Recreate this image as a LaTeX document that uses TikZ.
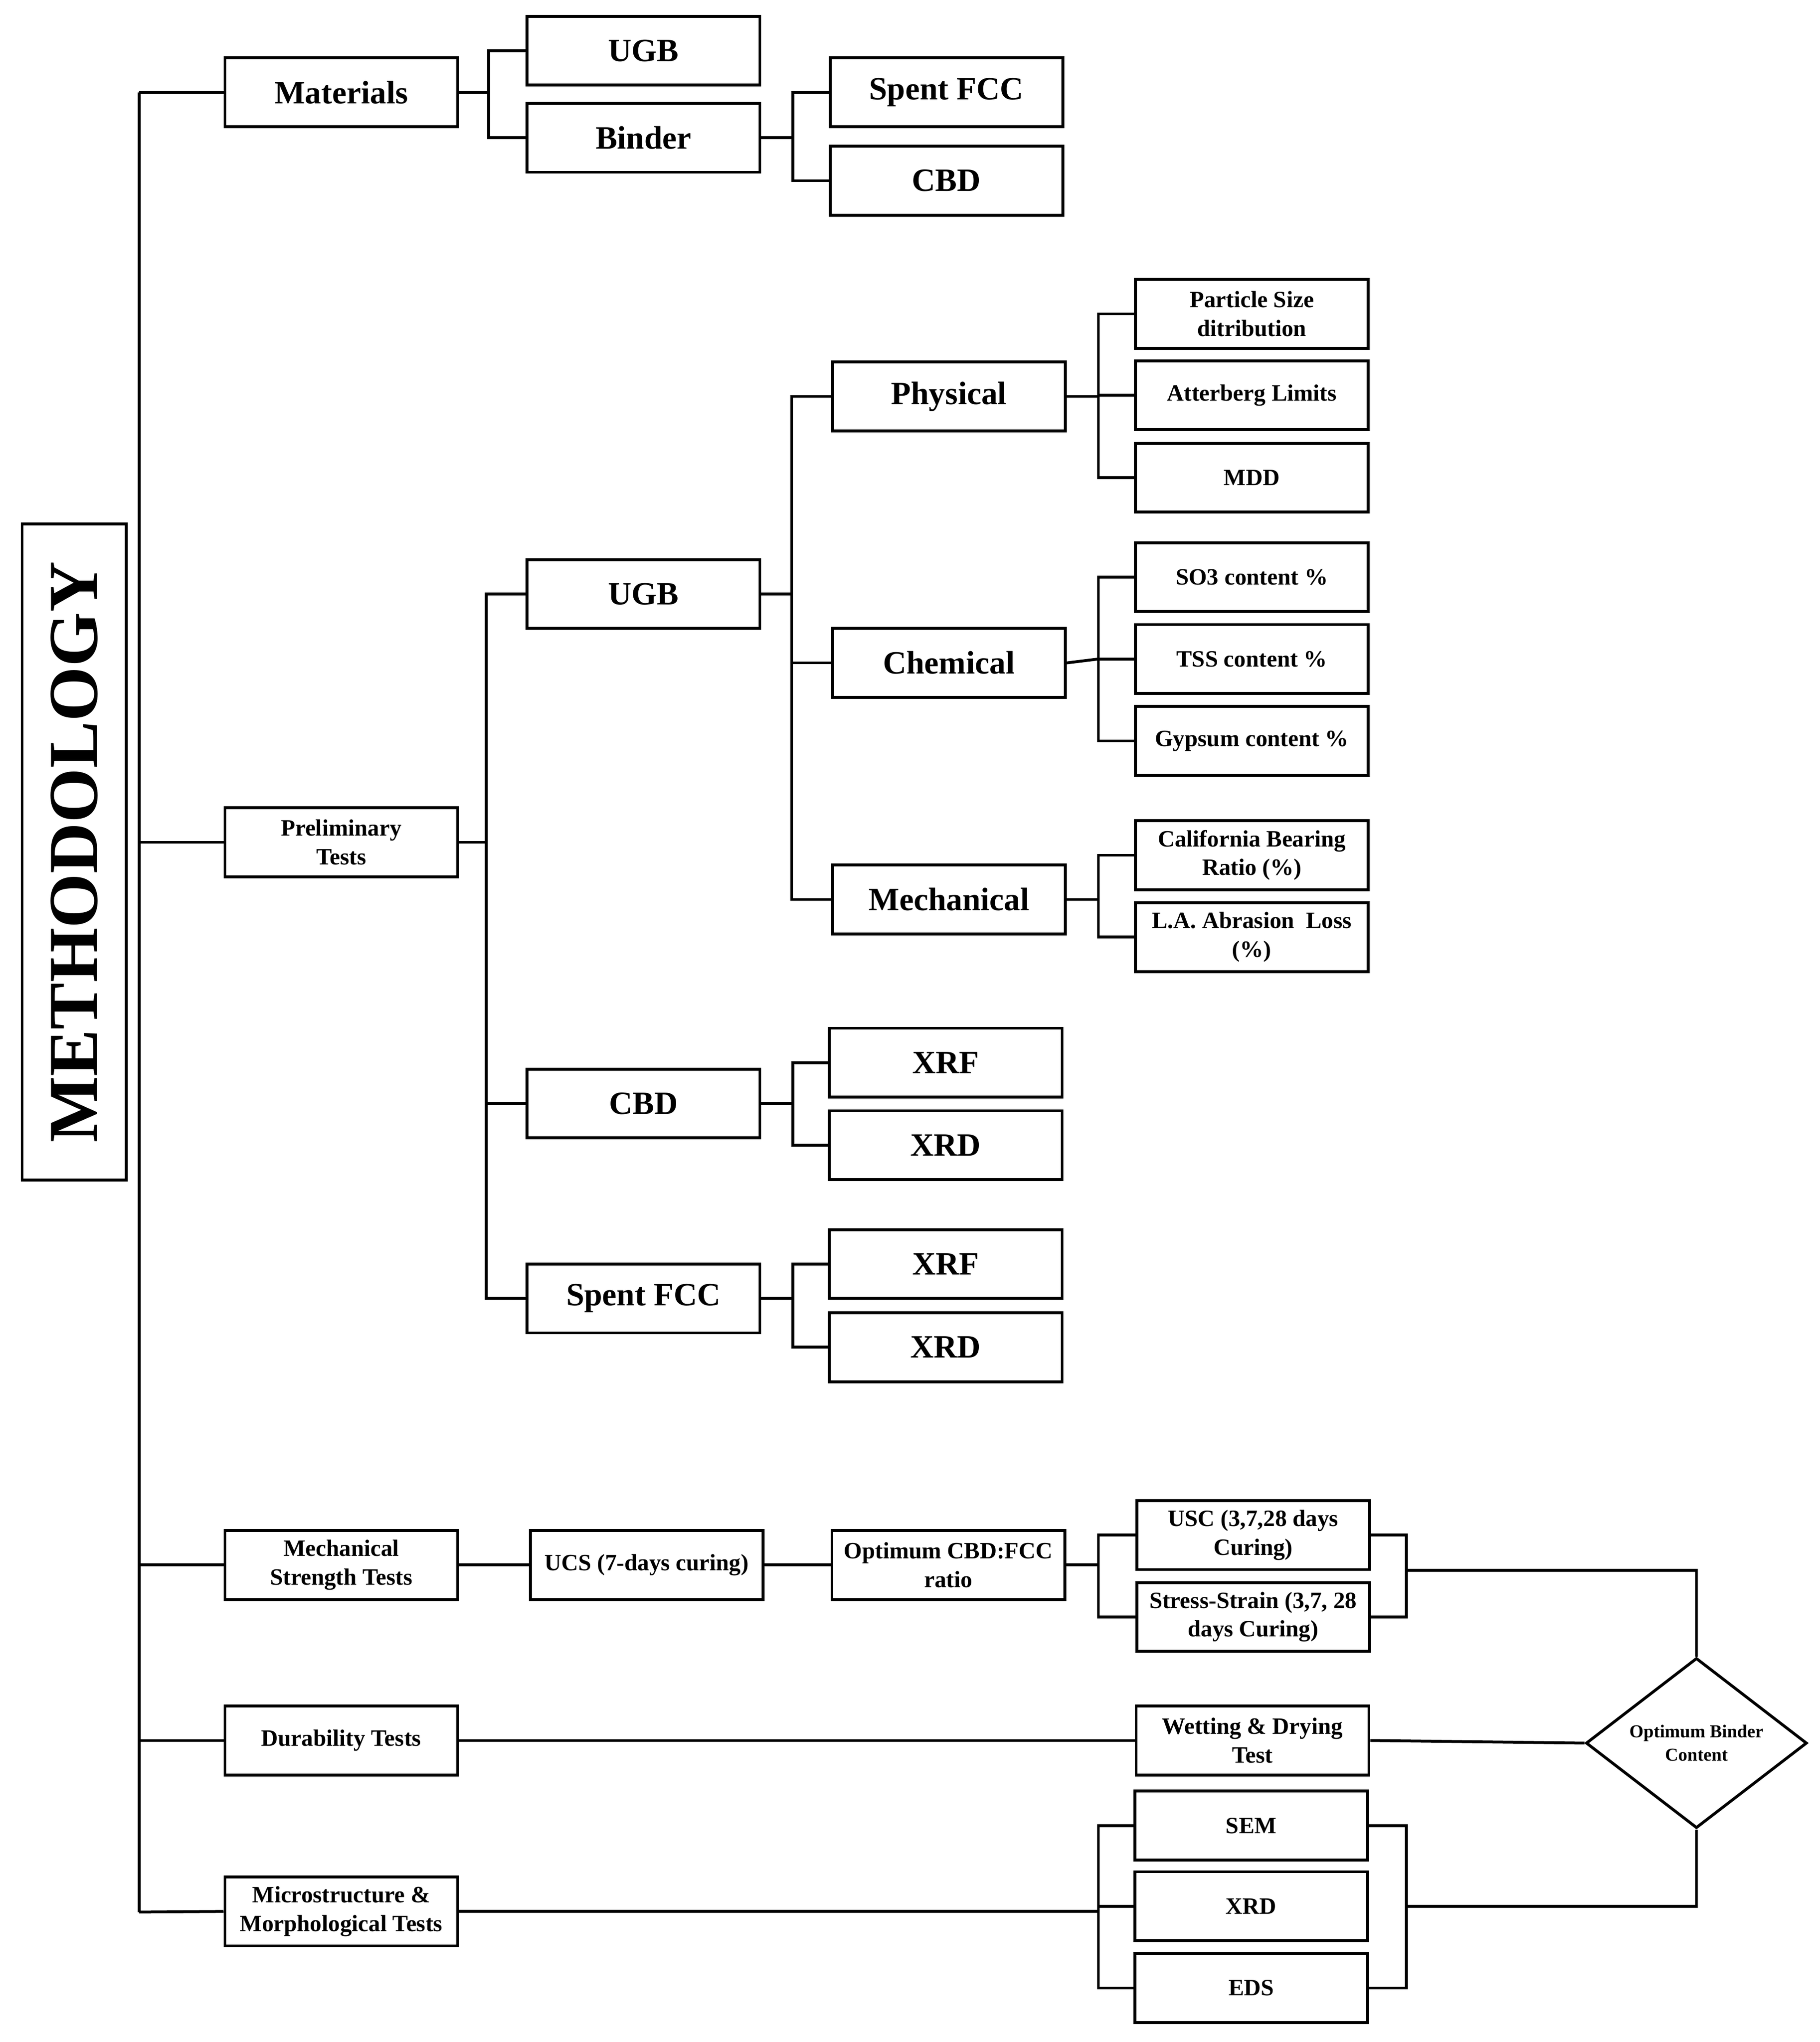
\documentclass[tikz,border=0pt]{standalone}
\usepackage{fontspec}
\setmainfont{Liberation Serif}
\usetikzlibrary{shapes.geometric}
\begin{document}
\begin{tikzpicture}[x=1pt,y=-1pt,
 bx/.style={draw,line width=2.2pt,minimum width=179pt,minimum height=53pt,inner sep=1pt,align=center,font=\bfseries\fontsize{25}{27}\selectfont},
 sm/.style={bx,font=\bfseries\fontsize{18}{22}\selectfont},
 ln/.style={line width=2.2pt}]
\useasboundingbox (0,0) rectangle (1400,1571);
\node[draw,line width=2.2pt,minimum width=80pt,minimum height=505pt,inner sep=0] (meth) at (57,655.5) {};
\node[rotate=90,font=\bfseries\fontsize{54}{56}\selectfont] (mt) at (57,655.5) {METHODOLOGY};
\node[bx] (mat) at (262.5,71) {Materials};
\node[bx] (ugb1) at (495,39) {UGB};
\node[bx] (bin) at (495,106) {Binder};
\node[bx] (fcc1) at (728,71) {Spent FCC};
\node[bx] (cbd1) at (728,139) {CBD};
\node[sm] (pre) at (262.5,648) {Preliminary\\Tests};
\node[bx] (ugb) at (495,457) {UGB};
\node[bx] (phy) at (730,305) {Physical};
\node[bx] (che) at (730,510) {Chemical};
\node[bx] (mec) at (730,692) {Mechanical};
\node[sm] (psd) at (963,241.5) {Particle Size\\ditribution};
\node[sm] (att) at (963,304) {Atterberg Limits};
\node[sm] (mdd) at (963,367.5) {MDD};
\node[sm] (so3) at (963,444) {SO3 content \%};
\node[sm] (tss) at (963,507) {TSS content \%};
\node[sm] (gyp) at (963,570) {Gypsum content \%};
\node[sm] (cbr) at (963,658) {California Bearing\\Ratio (\%)};
\node[sm] (la) at (963,721) {L.A. Abrasion~ Loss\\(\%)};
\node[bx] (cbd) at (495,849) {CBD};
\node[bx] (xrf1) at (727.5,817.5) {XRF};
\node[bx] (xrd1) at (727.5,881) {XRD};
\node[bx] (fcc) at (495,999) {Spent FCC};
\node[bx] (xrf2) at (727.5,972.5) {XRF};
\node[bx] (xrd2) at (727.5,1036.5) {XRD};
\node[sm] (mst) at (262.5,1204) {Mechanical\\Strength Tests};
\node[sm] (ucs) at (497.5,1204) {UCS (7-days curing)};
\node[sm] (opt) at (729.5,1204) {Optimum CBD:FCC\\ratio};
\node[sm] (usc) at (964,1181) {USC (3,7,28 days\\Curing)};
\node[sm] (ss) at (964,1244) {Stress-Strain (3,7, 28\\days Curing)};
\node[sm] (dur) at (262.5,1339) {Durability Tests};
\node[sm] (wd) at (963.5,1339) {Wetting \& Drying\\Test};
\node[sm] (mic) at (262.5,1470.5) {Microstructure \&\\Morphological Tests};
\node[sm] (sem) at (962.5,1404.5) {SEM};
\node[sm] (xrd3) at (962.5,1466.5) {XRD};
\node[sm] (eds) at (962.5,1529.5) {EDS};
\node[diamond,draw,line width=2.2pt,minimum width=170pt,minimum height=98pt,inner sep=0,align=center,font=\bfseries\fontsize{14}{18}\selectfont] (obc) at (1305,1341) {Optimum Binder\\Content};
% trunk
\draw[ln] (107,71) -- (107,1471);
\draw[ln] (107,71) -- (mat.west);
\draw[ln] (107,648) -- (pre.west);
\draw[ln] (107,1204) -- (mst.west);
\draw[ln] (107,1339) -- (dur.west);
\draw[ln] (107,1471) -- (mic.west);
% materials
\draw[ln] (mat.east) -- (376,71);
\draw[ln] (ugb1.west) -| (376,106) -- (bin.west);
\draw[ln] (bin.east) -- (610,106);
\draw[ln] (fcc1.west) -| (610,139) -- (cbd1.west);
% preliminary
\draw[ln] (pre.east) -- (374,648);
\draw[ln] (ugb.west) -| (374,999) -- (fcc.west);
\draw[ln] (374,849) -- (cbd.west);
\draw[ln] (ugb.east) -- (609,457);
\draw[ln] (phy.west) -| (609,692) -- (mec.west);
\draw[ln] (609,510) -- (che.west);
\draw[ln] (phy.east) -- (845,305);
\draw[ln] (psd.west) -| (845,367.5) -- (mdd.west);
\draw[ln] (845,304) -- (att.west);
\draw[ln] (che.east) -- (845,507);
\draw[ln] (so3.west) -| (845,570) -- (gyp.west);
\draw[ln] (845,507) -- (tss.west);
\draw[ln] (mec.east) -- (845,692);
\draw[ln] (cbr.west) -| (845,721) -- (la.west);
\draw[ln] (cbd.east) -- (610,849);
\draw[ln] (xrf1.west) -| (610,881) -- (xrd1.west);
\draw[ln] (fcc.east) -- (610,999);
\draw[ln] (xrf2.west) -| (610,1036.5) -- (xrd2.west);
% mechanical strength
\draw[ln] (mst.east) -- (ucs.west);
\draw[ln] (ucs.east) -- (opt.west);
\draw[ln] (opt.east) -- (845,1204);
\draw[ln] (usc.west) -| (845,1244) -- (ss.west);
\draw[ln] (usc.east) -| (1082,1244) -- (ss.east);
\draw[ln] (1082,1208) -| (obc.north);
% durability
\draw[ln] (dur.east) -- (wd.west);
\draw[ln] (wd.east) -- (obc.west);
% micro
\draw[ln] (mic.east) -- (845,1470.5);
\draw[ln] (sem.west) -| (845,1529.5) -- (eds.west);
\draw[ln] (845,1466.5) -- (xrd3.west);
\draw[ln] (sem.east) -| (1082,1529.5) -- (eds.east);
\draw[ln] (1082,1466.5) -| (obc.south);
\end{tikzpicture}
\end{document}
